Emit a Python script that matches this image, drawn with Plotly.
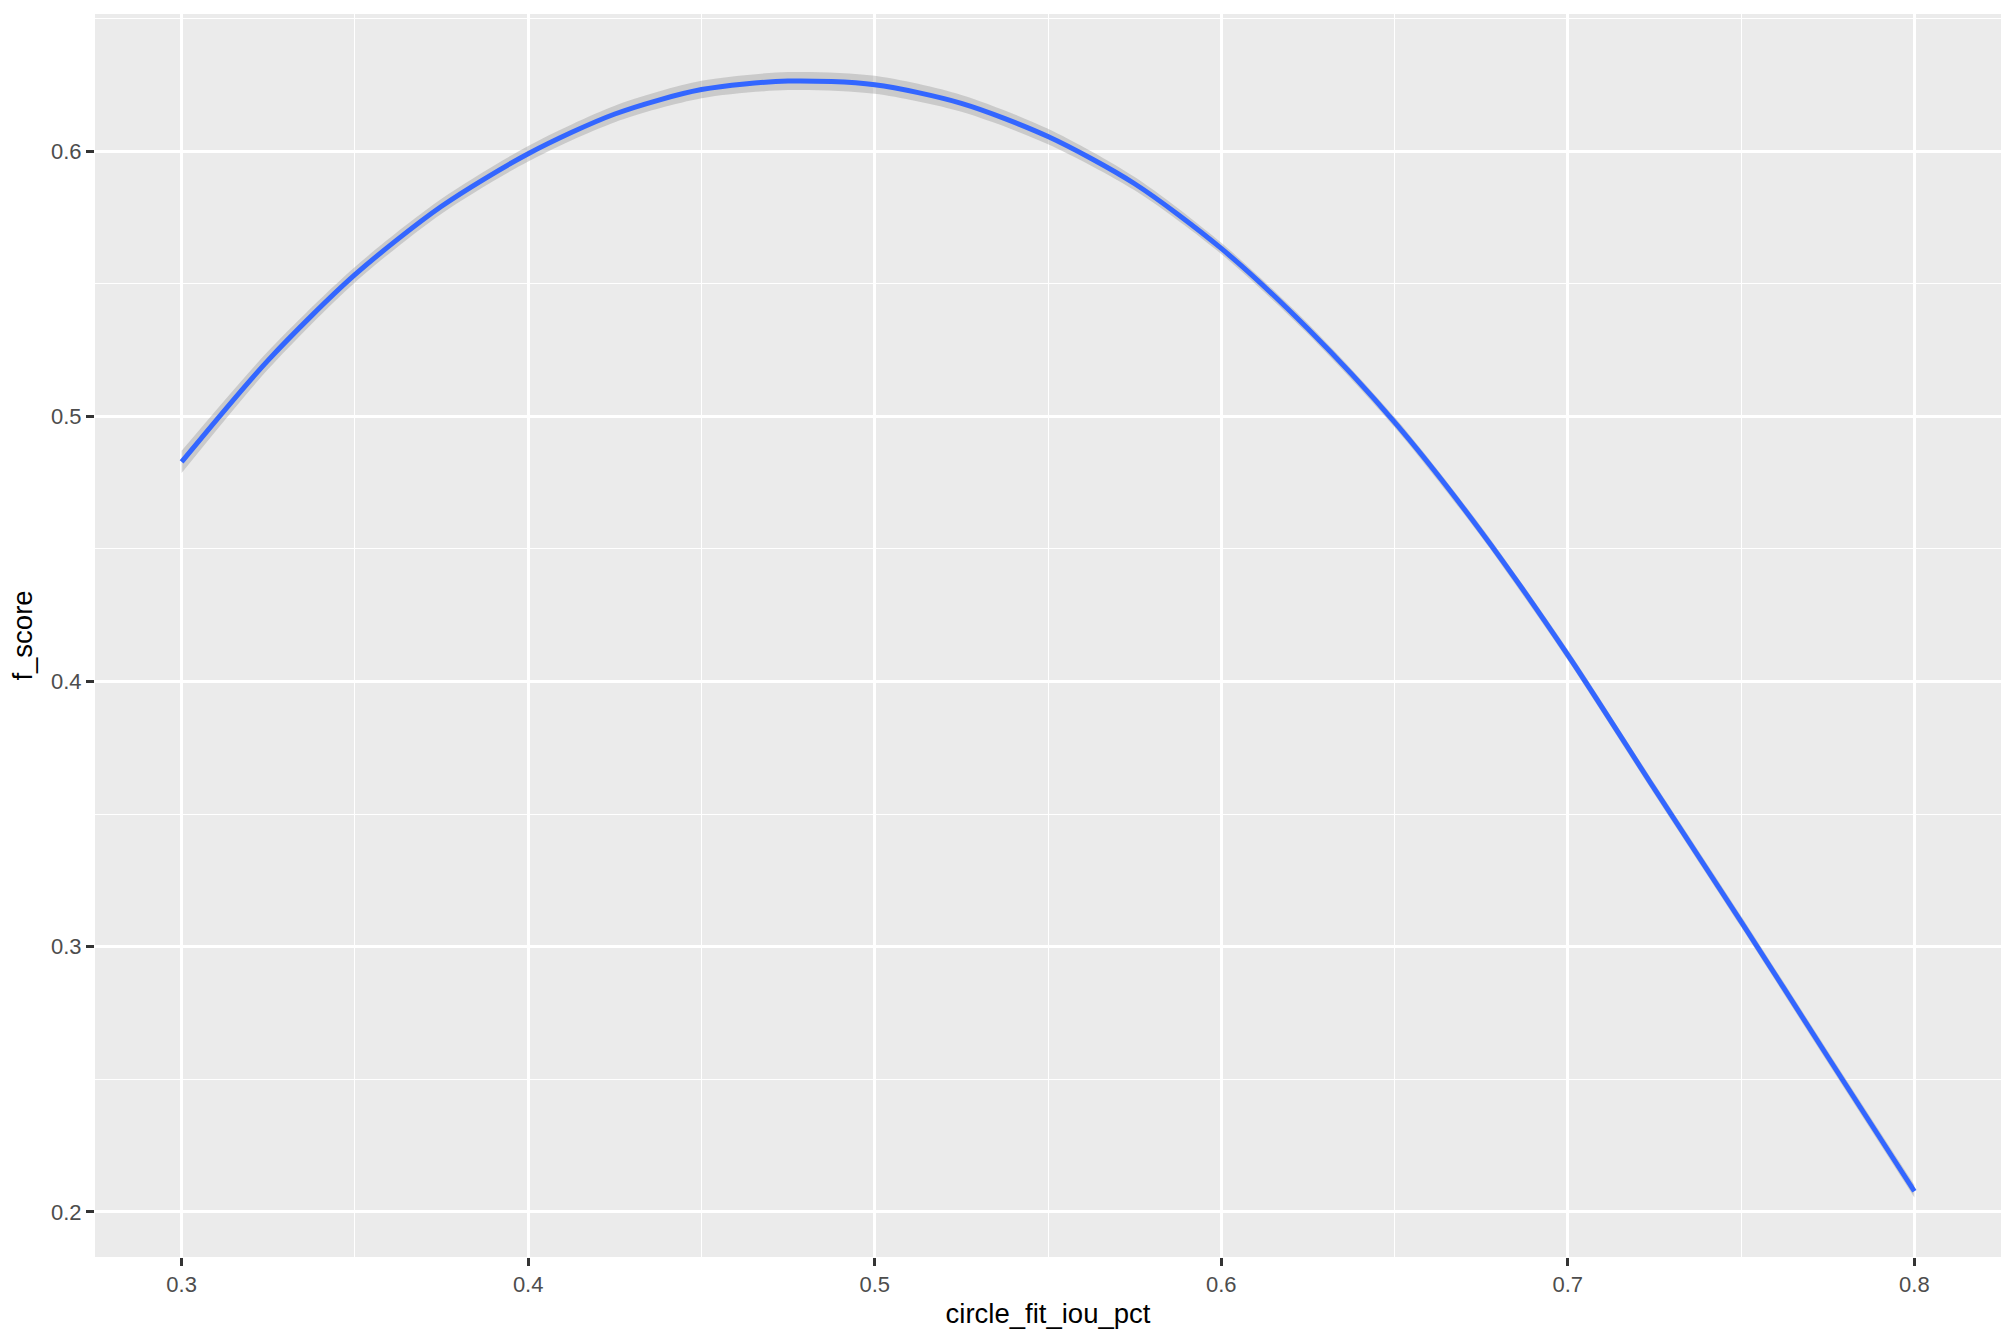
import plotly.graph_objects as go

# Values (smoothed fit with its confidence band)
circle_fit_iou_pct = [0.300, 0.325, 0.350, 0.375, 0.400, 0.425, 0.450, 0.475, 0.500,
                      0.525, 0.550, 0.575, 0.600, 0.625, 0.650, 0.675, 0.700, 0.725,
                      0.750, 0.775, 0.800]
f_score_fit = [0.4828, 0.5212, 0.5534, 0.5792, 0.5990, 0.6140, 0.6232, 0.6264, 0.6250,
               0.6180, 0.6055, 0.5877, 0.5633, 0.5330, 0.4978, 0.4565, 0.4100, 0.3595,
               0.3095, 0.2585, 0.2078]
band_halfwidth = [0.0042, 0.0034, 0.0029, 0.0028, 0.0029, 0.0031, 0.0033, 0.0034, 0.0034,
                  0.0032, 0.0029, 0.0025, 0.0021, 0.0020, 0.0019, 0.0019, 0.0020, 0.0020,
                  0.0021, 0.0022, 0.0024]

x_ticks = [0.3, 0.4, 0.5, 0.6, 0.7, 0.8]
y_ticks = [0.2, 0.3, 0.4, 0.5, 0.6]
x_title = "circle_fit_iou_pct"
y_title = "f_score"

lower = [f - h for f, h in zip(f_score_fit, band_halfwidth)]
upper = [f + h for f, h in zip(f_score_fit, band_halfwidth)]

fig = go.Figure()
fig.add_trace(go.Scatter(x=circle_fit_iou_pct, y=lower, mode="lines",
                         line=dict(width=0, shape="spline", smoothing=0.8,
                                   color="rgba(0,0,0,0)"),
                         showlegend=False, hoverinfo="skip"))
fig.add_trace(go.Scatter(x=circle_fit_iou_pct, y=upper, mode="lines",
                         line=dict(width=0, shape="spline", smoothing=0.8,
                                   color="rgba(0,0,0,0)"),
                         fill="tonexty", fillcolor="rgba(153,153,153,0.4)",
                         showlegend=False, hoverinfo="skip"))
fig.add_trace(go.Scatter(x=circle_fit_iou_pct, y=f_score_fit, mode="lines",
                         line=dict(color="#3366FF", width=5, shape="spline", smoothing=0.8),
                         showlegend=False))

font_family = "Liberation Sans, Arial, sans-serif"
axis_common = dict(
    showgrid=True, gridcolor="white", gridwidth=2.6,
    zeroline=False, showline=False,
    ticks="outside", ticklen=8, tickwidth=2.5, tickcolor="#333333",
    tickfont=dict(family=font_family, size=22, color="#4D4D4D"),
    minor=dict(showgrid=True, gridcolor="white", gridwidth=1.3, dtick=0.05, tick0=0),
)

fig.update_layout(
    width=2016, height=1344,
    margin=dict(l=95, r=15, t=14, b=87),
    paper_bgcolor="white", plot_bgcolor="#EBEBEB",
    font=dict(family=font_family),
    xaxis=dict(range=[0.275, 0.825], tickvals=x_ticks,
               ticktext=[f"{v:g}" for v in x_ticks],
               title=dict(text=x_title, standoff=7,
                          font=dict(family=font_family, size=27.5, color="black")),
               **axis_common),
    yaxis=dict(range=[0.183, 0.6517], tickvals=y_ticks,
               ticktext=[f"{v:g}" for v in y_ticks],
               title=dict(text=y_title, standoff=10,
                          font=dict(family=font_family, size=27.5, color="black")),
               **axis_common),
)

fig.write_html("out.html", config={"displayModeBar": False},
               post_script="document.body.style.margin='0px';document.body.style.overflow='hidden';")
